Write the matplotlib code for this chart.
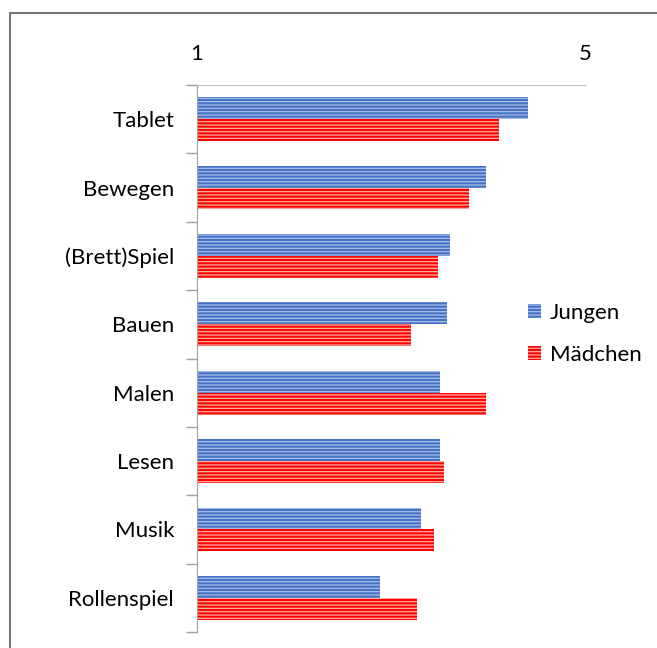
import matplotlib
matplotlib.use('Agg')
import numpy as np
from matplotlib import pyplot as plt
from matplotlib.patches import Rectangle

kategorien = ["Tablet", "Bewegen", "(Brett)Spiel", "Bauen", "Malen", "Lesen", "Musik", "Rollenspiel"]
jungen = [4.41, 3.98, 3.61, 3.58, 3.51, 3.51, 3.31, 2.89]
maedchen = [4.11, 3.80, 3.48, 3.21, 3.98, 3.55, 3.44, 3.27]

plt.rcParams['font.family'] = ['Lato', 'DejaVu Sans']
plt.rcParams['hatch.linewidth'] = 0.9

fig = plt.figure(figsize=(6.57, 6.48), dpi=100)
ax = fig.add_axes([197/657, 1-632/648, (585-197)/657, (632-85)/648])

y = np.arange(len(kategorien))
h = 0.32
blau = '#4472C4'
rot = '#FF0000'
ax.barh(y - h/2, np.array(jungen) - 1, left=1, height=h, color=blau,
        edgecolor='#a8bde8', hatch='-----', linewidth=0, label='Jungen')
ax.barh(y + h/2, np.array(maedchen) - 1, left=1, height=h, color=rot,
        edgecolor='#ffb0a0', hatch='-----', linewidth=0, label='Mädchen')

ax.set_xlim(1, 5)
ax.set_ylim(len(kategorien) - 0.5, -0.5)
ax.xaxis.tick_top()
ax.set_xticks([1, 5])
ax.set_xticklabels(['1', '5'], fontsize=16)
ax.tick_params(axis='x', length=0, pad=15)
ax.set_yticks(y)
ax.set_yticklabels(kategorien, fontsize=16)
ax.tick_params(axis='y', which='major', length=0, pad=16.5)
ax.set_yticks(np.arange(-0.5, len(kategorien), 1), minor=True)
ax.tick_params(axis='y', which='minor', length=8, color='#a0a0a0', width=1)

for s in ['right', 'bottom']:
    ax.spines[s].set_visible(False)
ax.spines['top'].set_color('#bfbfbf')
ax.spines['left'].set_color('#a0a0a0')

ax.legend(loc='center left', bbox_to_anchor=(508/657, 1-334/648), bbox_transform=fig.transFigure,
          frameon=False, fontsize=16, handlelength=0.6, handleheight=0.6,
          handletextpad=0.4, labelspacing=1.0)

rahmen = Rectangle((10/657, -0.01), 1.0, 1-13/648 + 0.01, transform=fig.transFigure,
                   fill=False, edgecolor='#767676', linewidth=1.5)
fig.patches.append(rahmen)

fig.savefig('out.png', dpi=100)
